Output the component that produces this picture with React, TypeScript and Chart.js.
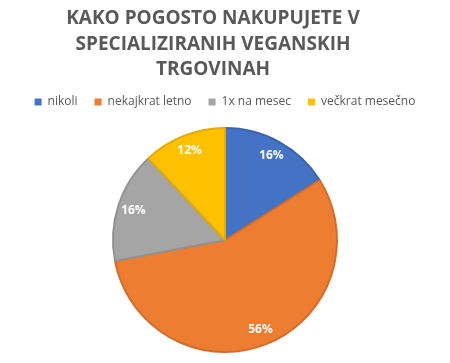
import React, { useEffect, useRef } from "react";
import { Chart, registerables } from "chart.js";

Chart.register(...registerables);

const TITLE_LINES = ["KAKO POGOSTO NAKUPUJETE V", "SPECIALIZIRANIH VEGANSKIH", "TRGOVINAH"];
const CATEGORIES = ["nikoli", "nekajkrat letno", "1x na mesec", "večkrat mesečno"];
const VALUES = [16, 56, 16, 12];
const COLORS = ["#4472C4", "#ED7D31", "#A5A5A5", "#FFC000"];
const BORDER_COLORS = ["#3B64AE", "#D36E2A", "#929292", "#E3AB00"];

const titlePlugin = {
  id: "customTitle",
  afterDraw(chart: any) {
    const ctx = chart.ctx;
    ctx.save();
    ctx.fillStyle = "#595959";
    ctx.font = "bold 19px 'Open Sans'";
    ctx.textAlign = "center";
    ctx.textBaseline = "middle";
    const ys = [19, 44.5, 70];
    TITLE_LINES.forEach((t, i) => ctx.fillText(t, 213, ys[i]));
    ctx.restore();
  },
};

const labelPlugin = {
  id: "pctLabels",
  afterDatasetsDraw(chart: any) {
    const ctx = chart.ctx;
    const meta = chart.getDatasetMeta(0);
    const data = chart.data.datasets[0].data as number[];
    const total = data.reduce((a, b) => a + b, 0);
    ctx.save();
    ctx.fillStyle = "#FFFFFF";
    ctx.font = "bold 12px 'Open Sans'";
    ctx.textAlign = "center";
    ctx.textBaseline = "middle";
    meta.data.forEach((arc: any, i: number) => {
      const { x, y, startAngle, endAngle, outerRadius } = arc.getProps(
        ["x", "y", "startAngle", "endAngle", "outerRadius"],
        true
      );
      const mid = (startAngle + endAngle) / 2;
      const r = outerRadius * 0.86;
      const pct = Math.round((data[i] / total) * 100) + "%";
      ctx.fillText(pct, x + Math.cos(mid) * r, y + Math.sin(mid) * r);
    });
    ctx.restore();
  },
};

export default function App() {
  const ref = useRef<HTMLCanvasElement>(null);
  useEffect(() => {
    if (!ref.current) return;
    const chart = new Chart(ref.current, {
      type: "pie",
      data: {
        labels: CATEGORIES,
        datasets: [
          {
            data: VALUES,
            backgroundColor: COLORS,
            borderColor: BORDER_COLORS,
            borderWidth: 2,
          },
        ],
      },
      options: {
        animation: false,
        responsive: false,
        radius: 112,
        layout: { padding: { top: 79, bottom: 1, left: 0, right: 0 } },
        plugins: {
          title: { display: false },
          tooltip: { enabled: false },
          legend: {
            position: "top",
            labels: {
              boxWidth: 7,
              boxHeight: 7,
              padding: 17,
              color: "#595959",
              font: { size: 12, family: "'Open Sans'" },
              generateLabels(chart: any) {
                const items = Chart.overrides.pie.plugins.legend.labels.generateLabels(chart);
                return items.map((it: any) => ({ ...it, lineWidth: 0, strokeStyle: it.fillStyle }));
              },
            },
          },
        },
      } as any,
      plugins: [titlePlugin, labelPlugin],
    });
    return () => chart.destroy();
  }, []);
  return (
    <div style={{ position: "absolute", left: 0, top: 0, width: 450, height: 363, background: "#fff" }}>
      <canvas ref={ref} width={450} height={363} style={{ width: 450, height: 363 }} />
    </div>
  );
}
